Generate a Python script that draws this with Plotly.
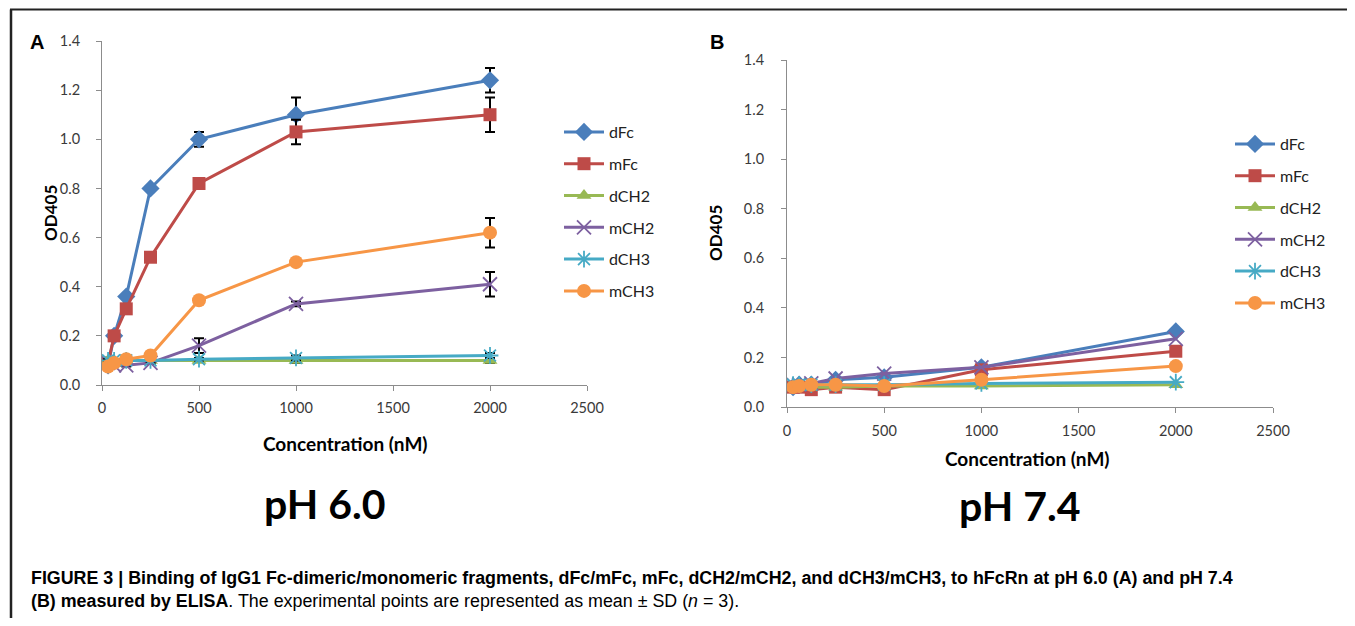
import plotly.graph_objects as go

# ---------------- data ----------------
conc = [31.25, 62.5, 125, 250, 500, 1000, 2000]
series_names = ["dFc", "mFc", "dCH2", "mCH2", "dCH3", "mCH3"]

# pH 6.0 (panel A)
a_dFc = [0.08, 0.20, 0.36, 0.80, 1.00, 1.10, 1.24]
a_mFc = [0.09, 0.20, 0.31, 0.52, 0.82, 1.03, 1.10]
a_dCH2 = [0.10, 0.10, 0.10, 0.10, 0.10, 0.10, 0.10]
a_mCH2 = [0.09, 0.08, 0.08, 0.09, 0.16, 0.33, 0.41]
a_dCH3 = [0.10, 0.10, 0.10, 0.10, 0.105, 0.11, 0.12]
a_mCH3 = [0.075, 0.09, 0.105, 0.12, 0.345, 0.50, 0.62]

a_err_dFc = [0.005, 0.01, 0.01, 0.01, 0.03, 0.07, 0.05]
a_err_mFc = [0.005, 0.01, 0.01, 0.01, 0.01, 0.05, 0.07]
a_err_dCH2 = [0.005, 0.005, 0.005, 0.005, 0.005, 0.01, 0.01]
a_err_mCH2 = [0.005, 0.005, 0.005, 0.005, 0.03, 0.01, 0.05]
a_err_dCH3 = [0.005, 0.005, 0.005, 0.005, 0.005, 0.01, 0.01]
a_err_mCH3 = [0.005, 0.005, 0.005, 0.01, 0.01, 0.01, 0.06]

# pH 7.4 (panel B)
b_dFc = [0.08, 0.09, 0.09, 0.11, 0.12, 0.16, 0.305]
b_mFc = [0.08, 0.08, 0.07, 0.08, 0.07, 0.15, 0.225]
b_dCH2 = [0.08, 0.08, 0.08, 0.08, 0.085, 0.085, 0.09]
b_mCH2 = [0.09, 0.09, 0.095, 0.115, 0.135, 0.16, 0.275]
b_dCH3 = [0.09, 0.09, 0.09, 0.09, 0.09, 0.095, 0.10]
b_mCH3 = [0.08, 0.085, 0.09, 0.09, 0.085, 0.11, 0.165]

x_ticks = [0, 500, 1000, 1500, 2000, 2500]
y_ticks = [0.0, 0.2, 0.4, 0.6, 0.8, 1.0, 1.2, 1.4]

# ---------------- styles ----------------
colors = ["#4A7EBB", "#BE4B48", "#98B954", "#7D60A0", "#46AAC5", "#F79646"]
symbols = ["diamond", "square", "triangle-up", "x-thin-open", "asterisk-open", "circle"]
msizes = [14, 13, 13, 14, 14, 14]

# page is the 1355x626 window; the figure sits inside the 8px body margin
PAGE_OFF = 8
W, H = 1355 - 2 * PAGE_OFF, 626 - 2 * PAGE_OFF
FONT = "Lato, Carlito, 'Open Sans', sans-serif"
CAP_FONT = "Liberation Sans Narrow, Arial Narrow, sans-serif"


def px(x):
    return (x - PAGE_OFF) / W


def py(y):
    return 1 - (y - PAGE_OFF) / H


fig = go.Figure()

a_vals = [a_dFc, a_mFc, a_dCH2, a_mCH2, a_dCH3, a_mCH3]
a_errs = [a_err_dFc, a_err_mFc, a_err_dCH2, a_err_mCH2, a_err_dCH3, a_err_mCH3]
b_vals = [b_dFc, b_mFc, b_dCH2, b_mCH2, b_dCH3, b_mCH3]


def mk(i):
    open_sym = symbols[i].endswith("open")
    return dict(symbol=symbols[i], size=msizes[i], color=colors[i],
                line=dict(color=colors[i], width=1.8 if open_sym else 0))


for i, name in enumerate(series_names):
    fig.add_trace(go.Scatter(
        x=conc, y=a_vals[i], name=name, mode="lines+markers",
        line=dict(color=colors[i], width=3), marker=mk(i),
        error_y=dict(type="data", array=a_errs[i], color="black", thickness=2, width=5),
        xaxis="x", yaxis="y", legend="legend", legendgroup="a" + name,
    ))
for i, name in enumerate(series_names):
    fig.add_trace(go.Scatter(
        x=conc, y=b_vals[i], name=name, mode="lines+markers",
        line=dict(color=colors[i], width=3), marker=mk(i),
        xaxis="x2", yaxis="y2", legend="legend2", legendgroup="b" + name,
    ))

axis_common = dict(showgrid=False, zeroline=False, showline=True, linecolor="#8C8C8C",
                   linewidth=1, ticks="outside", ticklen=5, tickcolor="#8C8C8C",
                   automargin=False,
                   tickfont=dict(family=FONT, size=14.5, color="#3A3A3A"))

legend_common = dict(xanchor="left", yanchor="top",
                     font=dict(family=FONT, size=16, color="#222222"),
                     tracegroupgap=8, itemwidth=40, bgcolor="rgba(0,0,0,0)",
                     traceorder="grouped")

fig.update_layout(
    width=W, height=H, autosize=False,
    margin=dict(l=0, r=0, t=0, b=0, pad=0),
    paper_bgcolor="white", plot_bgcolor="white",
    xaxis=dict(domain=[px(102), px(587)], range=[0, 2500], tickvals=x_ticks,
               anchor="y", ticklabelstandoff=5, **axis_common),
    yaxis=dict(domain=[py(385), py(41)], range=[0, 1.4], tickvals=y_ticks,
               tickformat=".1f", anchor="x", ticklabelstandoff=13, **axis_common),
    xaxis2=dict(domain=[px(787), px(1273)], range=[0, 2500], tickvals=x_ticks,
                anchor="y2", ticklabelstandoff=6, **axis_common),
    yaxis2=dict(domain=[py(407), py(60)], range=[0, 1.4], tickvals=y_ticks,
                tickformat=".1f", anchor="x2", ticklabelstandoff=14, **axis_common),
    legend=dict(x=px(559), y=py(115), **legend_common),
    legend2=dict(x=px(1230), y=py(127), **legend_common),
    showlegend=True,
)

annotations = [
    dict(text="<b>A</b>", x=px(37), y=py(42), font=dict(family="Liberation Sans, Arial", size=20, color="black")),
    dict(text="<b>B</b>", x=px(717), y=py(42), font=dict(family="Liberation Sans, Arial", size=20, color="black")),
    dict(text="<b>Concentration (nM)</b>", x=px(345), y=py(443), font=dict(family=FONT, size=19, color="black")),
    dict(text="<b>Concentration (nM)</b>", x=px(1027), y=py(458), font=dict(family=FONT, size=19, color="black")),
    dict(text="<b>OD405</b>", x=px(50), y=py(213), textangle=-90, font=dict(family=FONT, size=17, color="black")),
    dict(text="<b>OD405</b>", x=px(715), y=py(233), textangle=-90, font=dict(family=FONT, size=17, color="black")),
    dict(text="<b>pH 6.0</b>", x=px(325), y=py(503), font=dict(family=FONT, size=41, color="black")),
    dict(text="<b>pH 7.4</b>", x=px(1020), y=py(505), font=dict(family=FONT, size=41, color="black")),
    dict(text="<b>FIGURE 3 | Binding of IgG1 Fc-dimeric/monomeric fragments, dFc/mFc, mFc, dCH2/mCH2, and dCH3/mCH3, to hFcRn at pH 6.0 (A) and pH 7.4</b>",
         x=px(29), y=py(578), xanchor="left",
         font=dict(family=CAP_FONT, size=17.85, color="black")),
    dict(text="<b>(B) measured by ELISA</b>. The experimental points are represented as mean ± SD (<i>n</i> = 3).",
         x=px(29), y=py(601), xanchor="left",
         font=dict(family=CAP_FONT, size=17.85, color="black")),
]
for a in annotations:
    a.setdefault("xanchor", "center")
    a.update(xref="paper", yref="paper", yanchor="middle", showarrow=False)
fig.update_layout(annotations=annotations)

# figure frame
fig.add_shape(type="rect", xref="paper", yref="paper",
              x0=px(11), x1=px(1354), y0=py(660), y1=py(9.5),
              line=dict(color="#222222", width=2), fillcolor="rgba(0,0,0,0)")
fig.add_shape(type="line", xref="paper", yref="paper",
              x0=px(11), x1=px(11), y0=py(660), y1=py(9.5),
              line=dict(color="#222222", width=2.5))

fig.write_html("out.html")
